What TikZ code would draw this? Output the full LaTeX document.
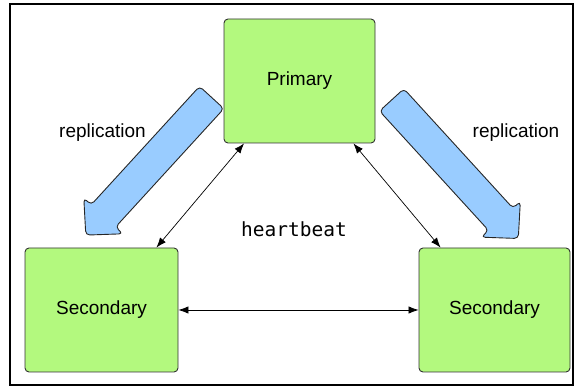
\documentclass[tikz,border=0pt]{standalone}
\usepackage{fontspec}
\setmainfont{Liberation Sans}
\newfontfamily\codefont{DejaVu Sans Mono}
\usetikzlibrary{arrows.meta,calc}

\definecolor{boxgreen}{RGB}{179,249,126}
\definecolor{flowblue}{RGB}{153,204,255}
\definecolor{edgegray}{RGB}{50,50,50}

\tikzset{
  server/.style={draw=edgegray, line width=0.9pt, fill=boxgreen, rounded corners=4pt,
    minimum width=#1, minimum height=124pt, inner sep=0pt, font=\fontsize{19}{22}\selectfont},
  server/.default=152pt,
  beat/.style={line width=0.7pt, {Latex[length=10pt,width=7.5pt]}-{Latex[length=10pt,width=7.5pt]}},
  fatarrow/.style={draw=black!85, line width=0.9pt, fill=flowblue, rounded corners=4pt, line join=round},
  caption/.style={font=\fontsize{19}{22}\selectfont, inner sep=0pt},
}

\begin{document}
\begin{tikzpicture}[x=1pt, y=-1pt]
  \useasboundingbox (0,0) rectangle (574,387);
  % outer frame
  \draw[line width=2pt] (10,4.5) rectangle (572.5,385.5);

  % servers
  \node[server=151pt] (prim) at (299.5,81) {Primary};
  \node[server=153pt] (secL) at (101.5,310) {Secondary};
  \node[server=151pt] (secR) at (494.5,310) {Secondary};

  % heartbeat links
  \draw[beat] ([xshift=20.5pt]prim.south west) -- ([xshift=-22pt]secL.north east);
  \draw[beat] ([xshift=-22pt]prim.south east) -- ([xshift=22pt]secR.north west);
  \draw[beat] (secL.east) -- (secR.west);
  \node[inner sep=0pt, font=\codefont\fontsize{19.5}{22}\selectfont] (hb) at (294,229) {heartbeat};

  % replication block arrows: tail point, tip point
  \coordinate (lT) at (211.7,97.5);
  \coordinate (lH) at (85.8,235.1);
  \coordinate (rT) at (391.7,99.9);
  \coordinate (rH) at (518.3,238.5);
  \foreach \t/\h in {lT/lH, rT/rH}{
    \coordinate (B) at ($(\h)!26pt!(\t)$);
    \draw[fatarrow]
      ($(\t)!16.5pt!90:(\h)$) --
      ($(B)!16.5pt!90:(\h)$) --
      ($(B)!26.5pt!90:(\h)$) --
      (\h) --
      ($(B)!26.5pt!-90:(\h)$) --
      ($(B)!16.5pt!-90:(\h)$) --
      ($(\t)!16.5pt!-90:(\h)$) -- cycle;
  }
  \node[caption] (repL) at (102.5,133) {replication};
  \node[caption] (repR) at (516,133) {replication};
\end{tikzpicture}
\end{document}
